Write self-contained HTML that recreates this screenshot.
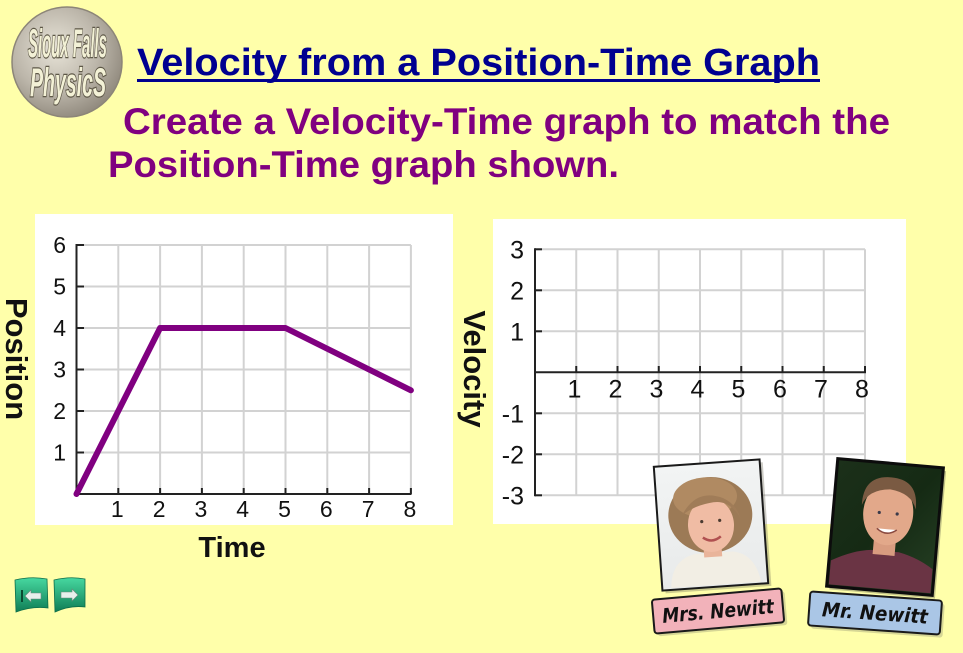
<!DOCTYPE html>
<html>
<head>
<meta charset="utf-8">
<style>
  html, body { margin:0; padding:0; background:#FFFFAA; }
  svg { display:block; }
  .lbl { font-family:"Liberation Sans", Arial, sans-serif; fill:#111; }
</style>
</head>
<body>
<svg width="963" height="653" viewBox="0 0 963 653" xmlns="http://www.w3.org/2000/svg">
  <defs>
    <radialGradient id="logoG" cx="40%" cy="38%" r="65%">
      <stop offset="0" stop-color="#e8e4d8"/>
      <stop offset="0.6" stop-color="#bcb6aa"/>
      <stop offset="1" stop-color="#918a7e"/>
    </radialGradient>
    <linearGradient id="btnG" x1="0" y1="0" x2="0" y2="1">
      <stop offset="0" stop-color="#47d8a0"/>
      <stop offset="1" stop-color="#0f7d55"/>
    </linearGradient>
    <linearGradient id="mrsBg" x1="0" y1="0" x2="0" y2="1">
      <stop offset="0" stop-color="#f2f4f4"/>
      <stop offset="1" stop-color="#e8eaea"/>
    </linearGradient>
    <linearGradient id="mrBg" x1="0" y1="0" x2="1" y2="1">
      <stop offset="0" stop-color="#1c301a"/>
      <stop offset="0.5" stop-color="#152a14"/>
      <stop offset="1" stop-color="#264024"/>
    </linearGradient>
  </defs>

  <rect x="0" y="0" width="963" height="653" fill="#FFFFAA"/>

  <!-- Logo -->
  <circle cx="67" cy="62" r="55" fill="url(#logoG)" stroke="#8c8578" stroke-width="1.5"/>
  <g font-family="Liberation Sans, Arial, sans-serif" font-weight="bold" font-style="italic">
    <text x="28" y="57" font-size="40" textLength="79" lengthAdjust="spacingAndGlyphs" fill="none" stroke="#5e5848" stroke-width="2.5">Sioux Falls</text>
    <text x="28" y="57" font-size="40" textLength="79" lengthAdjust="spacingAndGlyphs" fill="#f3f1d6">Sioux Falls</text>
    <text x="30" y="96" font-size="40" textLength="76" lengthAdjust="spacingAndGlyphs" fill="none" stroke="#5e5848" stroke-width="2.5">PhysicS</text>
    <text x="30" y="96" font-size="40" textLength="76" lengthAdjust="spacingAndGlyphs" fill="#f3f1d6">PhysicS</text>
  </g>

  <!-- Title -->
  <text x="137" y="75" font-family="Liberation Sans, Arial, sans-serif" font-weight="bold" font-size="38" fill="#000090" textLength="683" lengthAdjust="spacingAndGlyphs">Velocity from a Position-Time Graph</text>
  <rect x="137" y="79" width="683" height="3" fill="#000090"/>

  <!-- Subtitle -->
  <text x="123" y="134" font-family="Liberation Sans, Arial, sans-serif" font-weight="bold" font-size="37" fill="#800080" textLength="767" lengthAdjust="spacingAndGlyphs">Create a Velocity-Time graph to match the</text>
  <text x="108" y="177" font-family="Liberation Sans, Arial, sans-serif" font-weight="bold" font-size="37" fill="#800080" textLength="511" lengthAdjust="spacingAndGlyphs">Position-Time graph shown.</text>

  <!-- LEFT CHART -->
  <rect x="35" y="214" width="418" height="311" fill="#ffffff"/>
  <g stroke="#d2d2d2" stroke-width="2">
    <line x1="118.3" y1="245" x2="118.3" y2="494"/>
    <line x1="160.1" y1="245" x2="160.1" y2="494"/>
    <line x1="201.9" y1="245" x2="201.9" y2="494"/>
    <line x1="243.7" y1="245" x2="243.7" y2="494"/>
    <line x1="285.5" y1="245" x2="285.5" y2="494"/>
    <line x1="327.3" y1="245" x2="327.3" y2="494"/>
    <line x1="369.1" y1="245" x2="369.1" y2="494"/>
    <line x1="410.9" y1="245" x2="410.9" y2="494"/>
    <line x1="76.5" y1="452.5" x2="410.9" y2="452.5"/>
    <line x1="76.5" y1="411" x2="410.9" y2="411"/>
    <line x1="76.5" y1="369.5" x2="410.9" y2="369.5"/>
    <line x1="76.5" y1="328" x2="410.9" y2="328"/>
    <line x1="76.5" y1="286.5" x2="410.9" y2="286.5"/>
    <line x1="76.5" y1="245" x2="410.9" y2="245"/>
  </g>
  <g stroke="#222" stroke-width="2">
    <line x1="76.5" y1="244" x2="76.5" y2="494"/>
    <line x1="76.5" y1="494" x2="411.5" y2="494"/>
    <line x1="76.5" y1="452.5" x2="84" y2="452.5"/>
    <line x1="76.5" y1="411" x2="84" y2="411"/>
    <line x1="76.5" y1="369.5" x2="84" y2="369.5"/>
    <line x1="76.5" y1="328" x2="84" y2="328"/>
    <line x1="76.5" y1="286.5" x2="84" y2="286.5"/>
    <line x1="76.5" y1="245" x2="84" y2="245"/>
    <line x1="118.3" y1="494" x2="118.3" y2="488"/>
    <line x1="160.1" y1="494" x2="160.1" y2="488"/>
    <line x1="201.9" y1="494" x2="201.9" y2="488"/>
    <line x1="243.7" y1="494" x2="243.7" y2="488"/>
    <line x1="285.5" y1="494" x2="285.5" y2="488"/>
    <line x1="327.3" y1="494" x2="327.3" y2="488"/>
    <line x1="369.1" y1="494" x2="369.1" y2="488"/>
    <line x1="410.9" y1="494" x2="410.9" y2="488"/>
  </g>
  <g class="lbl" font-size="23" text-anchor="end">
    <text x="66" y="253">6</text>
    <text x="66" y="294.5">5</text>
    <text x="66" y="336">4</text>
    <text x="66" y="377.5">3</text>
    <text x="66" y="419">2</text>
    <text x="66" y="460.5">1</text>
  </g>
  <g class="lbl" font-size="23" text-anchor="middle">
    <text x="117.3" y="517">1</text>
    <text x="159.1" y="517">2</text>
    <text x="200.9" y="517">3</text>
    <text x="242.7" y="517">4</text>
    <text x="284.5" y="517">5</text>
    <text x="326.3" y="517">6</text>
    <text x="368.1" y="517">7</text>
    <text x="409.9" y="517">8</text>
  </g>
  <polyline points="76.5,494 160.1,328 285.5,328 410.9,390.3" fill="none" stroke="#800080" stroke-width="6" stroke-linecap="round" stroke-linejoin="round"/>

  <text class="lbl" x="232" y="557" font-size="29" font-weight="bold" text-anchor="middle" fill="#000">Time</text>
  <text class="lbl" transform="translate(6,359) rotate(90)" font-size="31" font-weight="bold" text-anchor="middle" fill="#000">Position</text>

  <!-- RIGHT CHART -->
  <rect x="493" y="219" width="413" height="305" fill="#ffffff"/>
  <g stroke="#d2d2d2" stroke-width="2">
    <line x1="576.25" y1="249.3" x2="576.25" y2="495.3"/>
    <line x1="617.5" y1="249.3" x2="617.5" y2="495.3"/>
    <line x1="658.75" y1="249.3" x2="658.75" y2="495.3"/>
    <line x1="700" y1="249.3" x2="700" y2="495.3"/>
    <line x1="741.25" y1="249.3" x2="741.25" y2="495.3"/>
    <line x1="782.5" y1="249.3" x2="782.5" y2="495.3"/>
    <line x1="823.75" y1="249.3" x2="823.75" y2="495.3"/>
    <line x1="865" y1="249.3" x2="865" y2="495.3"/>
    <line x1="535" y1="249.3" x2="865" y2="249.3"/>
    <line x1="535" y1="290.3" x2="865" y2="290.3"/>
    <line x1="535" y1="331.3" x2="865" y2="331.3"/>
    <line x1="535" y1="413.3" x2="865" y2="413.3"/>
    <line x1="535" y1="454.3" x2="865" y2="454.3"/>
    <line x1="535" y1="495.3" x2="865" y2="495.3"/>
  </g>
  <g stroke="#222" stroke-width="2">
    <line x1="535" y1="248.3" x2="535" y2="496.3"/>
    <line x1="535" y1="372.3" x2="866" y2="372.3"/>
    <line x1="535" y1="249.3" x2="542" y2="249.3"/>
    <line x1="535" y1="290.3" x2="542" y2="290.3"/>
    <line x1="535" y1="331.3" x2="542" y2="331.3"/>
    <line x1="535" y1="413.3" x2="542" y2="413.3"/>
    <line x1="535" y1="454.3" x2="542" y2="454.3"/>
    <line x1="535" y1="495.3" x2="542" y2="495.3"/>
    <line x1="576.25" y1="372.3" x2="576.25" y2="366"/>
    <line x1="617.5" y1="372.3" x2="617.5" y2="366"/>
    <line x1="658.75" y1="372.3" x2="658.75" y2="366"/>
    <line x1="700" y1="372.3" x2="700" y2="366"/>
    <line x1="741.25" y1="372.3" x2="741.25" y2="366"/>
    <line x1="782.5" y1="372.3" x2="782.5" y2="366"/>
    <line x1="823.75" y1="372.3" x2="823.75" y2="366"/>
    <line x1="865" y1="372.3" x2="865" y2="366"/>
  </g>
  <g class="lbl" font-size="25" text-anchor="end">
    <text x="524" y="258.5">3</text>
    <text x="524" y="299.5">2</text>
    <text x="524" y="340.5">1</text>
    <text x="524" y="422.5">-1</text>
    <text x="524" y="463.5">-2</text>
    <text x="524" y="504.5">-3</text>
  </g>
  <g class="lbl" font-size="25" text-anchor="middle">
    <text x="574.5" y="397.5">1</text>
    <text x="615.5" y="397.5">2</text>
    <text x="656.5" y="397.5">3</text>
    <text x="697.5" y="397.5">4</text>
    <text x="738.5" y="397.5">5</text>
    <text x="780" y="397.5">6</text>
    <text x="821" y="397.5">7</text>
    <text x="862" y="397.5">8</text>
  </g>
  <text class="lbl" transform="translate(464,369) rotate(90)" font-size="31" font-weight="bold" text-anchor="middle" fill="#000">Velocity</text>

  <!-- Nav buttons -->
  <g>
    <path d="M15,580 Q31,576 47,579 L48,608 Q32,606 16,612 Z" fill="url(#btnG)" stroke="#0d6e4a" stroke-width="0.8"/>
    <rect x="21" y="590" width="2" height="12" fill="#0a4a32"/>
    <path d="M25,596 L31,590 L31,593 L41,593 L41,599 L31,599 L31,602 Z" fill="#e8f0ec" stroke="#6a8a7c" stroke-width="0.6"/>
    <path d="M54,580 Q70,576 85,579 L85,607 Q70,605 55,612 Z" fill="url(#btnG)" stroke="#0d6e4a" stroke-width="0.8"/>
    <path d="M78,595 L72,589 L72,592 L61,592 L61,598 L72,598 L72,601 Z" fill="#e8f0ec" stroke="#6a8a7c" stroke-width="0.6"/>
  </g>

  <!-- Mrs. Newitt photo -->
  <g transform="translate(711,525) rotate(-4)">
    <rect x="-50" y="-59" width="106" height="124" fill="#6e6a5a" opacity="0.35"/>
    <rect x="-53" y="-62" width="106" height="124" fill="url(#mrsBg)" stroke="#1a1a1a" stroke-width="2"/>
    <path d="M-44,60 Q-42,32 -18,28 L20,28 Q42,32 46,60 Z" fill="#f2eee4"/>
    <ellipse cx="0" cy="-10" rx="42" ry="38" fill="#9c7a56"/>
    <ellipse cx="-4" cy="-28" rx="32" ry="20" fill="#b08a62"/>
    <rect x="-9" y="18" width="18" height="14" fill="#e9b49a"/>
    <ellipse cx="0" cy="0" rx="23" ry="27" fill="#f0bca4"/>
    <path d="M-28,-12 Q-12,-38 14,-26 Q28,-18 30,-4 Q20,-26 0,-22 Q-16,-20 -28,-12 Z" fill="#a07c58"/>
    <path d="M-9,12 Q0,19 9,12" fill="none" stroke="#b05050" stroke-width="2.5"/>
    <circle cx="-9" cy="-4" r="1.6" fill="#4a3a30"/>
    <circle cx="9" cy="-4" r="1.6" fill="#4a3a30"/>
  </g>

  <!-- Mr. Newitt photo -->
  <g transform="translate(885,527) rotate(5)">
    <rect x="-50" y="-61" width="106" height="128" fill="#333" opacity="0.3"/>
    <rect x="-53" y="-64" width="106" height="128" fill="url(#mrBg)" stroke="#0c0c0c" stroke-width="3"/>
    <path d="M-51,62 L-51,38 Q-30,26 -12,24 L16,24 Q36,28 51,38 L51,62 Z" fill="#6a3444"/>
    <rect x="-10" y="12" width="22" height="16" fill="#d89c80"/>
    <ellipse cx="2" cy="-14" rx="25" ry="32" fill="#e2a88a"/>
    <path d="M-25,-20 Q-26,-50 2,-50 Q30,-50 29,-20 Q24,-36 2,-38 Q-20,-36 -25,-20 Z" fill="#7a5a42"/>
    <path d="M-8,2 Q2,10 12,2" fill="#fff" stroke="#8a4a40" stroke-width="1.5"/>
    <circle cx="-7" cy="-14" r="1.6" fill="#3a3a4a"/>
    <circle cx="11" cy="-14" r="1.6" fill="#3a3a4a"/>
  </g>

  <!-- Labels -->
  <g transform="translate(718,611) rotate(-5)">
    <rect x="-62" y="-14" width="130" height="34" rx="3" fill="#8a8a70" opacity="0.35"/>
    <rect x="-65" y="-17" width="130" height="34" rx="3" fill="#f2b2ba" stroke="#1a1a1a" stroke-width="2"/>
    <text x="0" y="7" text-anchor="middle" font-family="DejaVu Sans, Liberation Sans, sans-serif" font-weight="bold" font-style="italic" font-size="20" fill="#111" textLength="112" lengthAdjust="spacingAndGlyphs">Mrs. Newitt</text>
  </g>
  <g transform="translate(875,613) rotate(4)">
    <rect x="-63" y="-14" width="132" height="34" rx="3" fill="#8a8a70" opacity="0.35"/>
    <rect x="-66" y="-17" width="132" height="34" rx="3" fill="#aac6e6" stroke="#1a1a1a" stroke-width="2"/>
    <text x="0" y="7" text-anchor="middle" font-family="DejaVu Sans, Liberation Sans, sans-serif" font-weight="bold" font-style="italic" font-size="20" fill="#111" textLength="106" lengthAdjust="spacingAndGlyphs">Mr. Newitt</text>
  </g>
</svg>
</body>
</html>
